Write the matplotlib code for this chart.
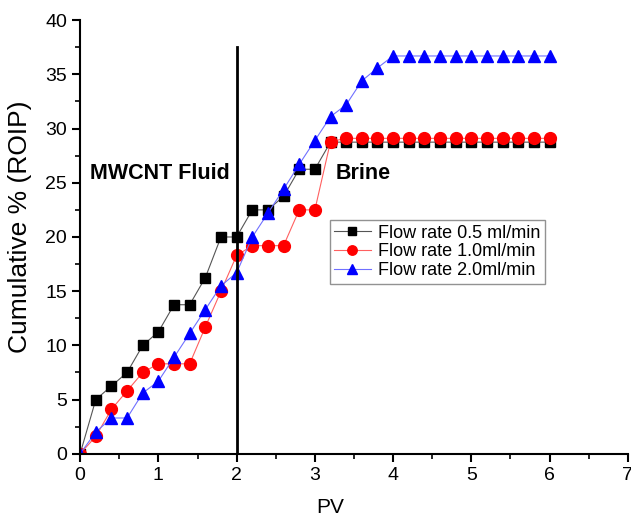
import matplotlib
matplotlib.use("Agg")
import matplotlib.pyplot as plt
from matplotlib.ticker import MultipleLocator

plt.rcParams['font.family'] = ['Liberation Sans', 'DejaVu Sans']

# PV values (0 to 6 by 0.2)
pv = [0.0, 0.2, 0.4, 0.6, 0.8, 1.0, 1.2, 1.4, 1.6, 1.8, 2.0, 2.2, 2.4, 2.6, 2.8, 3.0,
      3.2, 3.4, 3.6, 3.8, 4.0, 4.2, 4.4, 4.6, 4.8, 5.0, 5.2, 5.4, 5.6, 5.8, 6.0]

# cumulative % ROIP
rate_05 = [0.0, 5.0, 6.25, 7.5, 10.0, 11.25, 13.75, 13.75, 16.25, 20.0, 20.0, 22.5, 22.5,
           23.75, 26.25, 26.25, 28.75, 28.75, 28.75, 28.75, 28.75, 28.75, 28.75, 28.75,
           28.75, 28.75, 28.75, 28.75, 28.75, 28.75, 28.75]
rate_10 = [0.0, 1.6, 4.1, 5.8, 7.5, 8.3, 8.3, 8.3, 11.7, 15.0, 18.3, 19.2, 19.2, 19.2,
           22.5, 22.5, 28.8, 29.1, 29.1, 29.1, 29.1, 29.1, 29.1, 29.1, 29.1, 29.1, 29.1,
           29.1, 29.1, 29.1, 29.1]
rate_20 = [0.0, 2.0, 3.3, 3.3, 5.6, 6.7, 8.9, 11.1, 13.3, 15.5, 16.7, 20.0, 22.2, 24.4,
           26.7, 28.9, 31.1, 32.2, 34.4, 35.6, 36.7, 36.7, 36.7, 36.7, 36.7, 36.7, 36.7,
           36.7, 36.7, 36.7, 36.7]

labels = ['Flow rate 0.5 ml/min', 'Flow rate 1.0ml/min', 'Flow rate 2.0ml/min']

fig = plt.figure(figsize=(6.31, 5.18), dpi=100)
ax = fig.add_axes([0.127, 0.124, 0.868, 0.837])

ax.plot(pv, rate_05, color='#555555', lw=0.8, marker='s', ms=7,
        mfc='black', mec='black', label=labels[0])
ax.plot(pv, rate_10, color='#ff6060', lw=0.8, marker='o', ms=8.5,
        mfc='red', mec='red', label=labels[1])
ax.plot(pv, rate_20, color='#7070ff', lw=0.8, marker='^', ms=9,
        mfc='blue', mec='blue', label=labels[2])

# boundary between MWCNT fluid and brine injection
ax.plot([2, 2], [0, 37.5], color='black', lw=2)

ax.text(0.13, 25.9, 'MWCNT Fluid', fontsize=15.5, fontweight='bold', va='center')
ax.text(3.27, 25.9, 'Brine', fontsize=15.5, fontweight='bold', va='center')

ax.set_xlim(0, 7)
ax.set_ylim(0, 40)
ax.xaxis.set_major_locator(MultipleLocator(1))
ax.xaxis.set_minor_locator(MultipleLocator(0.5))
ax.yaxis.set_major_locator(MultipleLocator(5))
ax.yaxis.set_minor_locator(MultipleLocator(2.5))
ax.tick_params(which='major', direction='out', length=6, width=1.5, labelsize=14)
ax.tick_params(which='minor', direction='out', length=3.5, width=1.2)

for side in ['top', 'right']:
    ax.spines[side].set_visible(False)
for side in ['left', 'bottom']:
    ax.spines[side].set_linewidth(1.5)

ax.set_xlabel('PV', fontsize=15)
ax.set_ylabel('Cumulative % (ROIP)', fontsize=19)
ax.xaxis.set_label_coords(0.456, -0.103)
ax.yaxis.set_label_coords(-0.088, 0.523)

leg = ax.legend(loc='upper left', bbox_to_anchor=(0.456, 0.539), borderaxespad=0,
                fontsize=13, frameon=True, fancybox=False, edgecolor='#777777',
                handlelength=2.0, borderpad=0.25, labelspacing=0.1,
                handletextpad=0.4, markerscale=0.8)
leg.get_frame().set_linewidth(1.0)

fig.savefig('out.png', dpi=100)
